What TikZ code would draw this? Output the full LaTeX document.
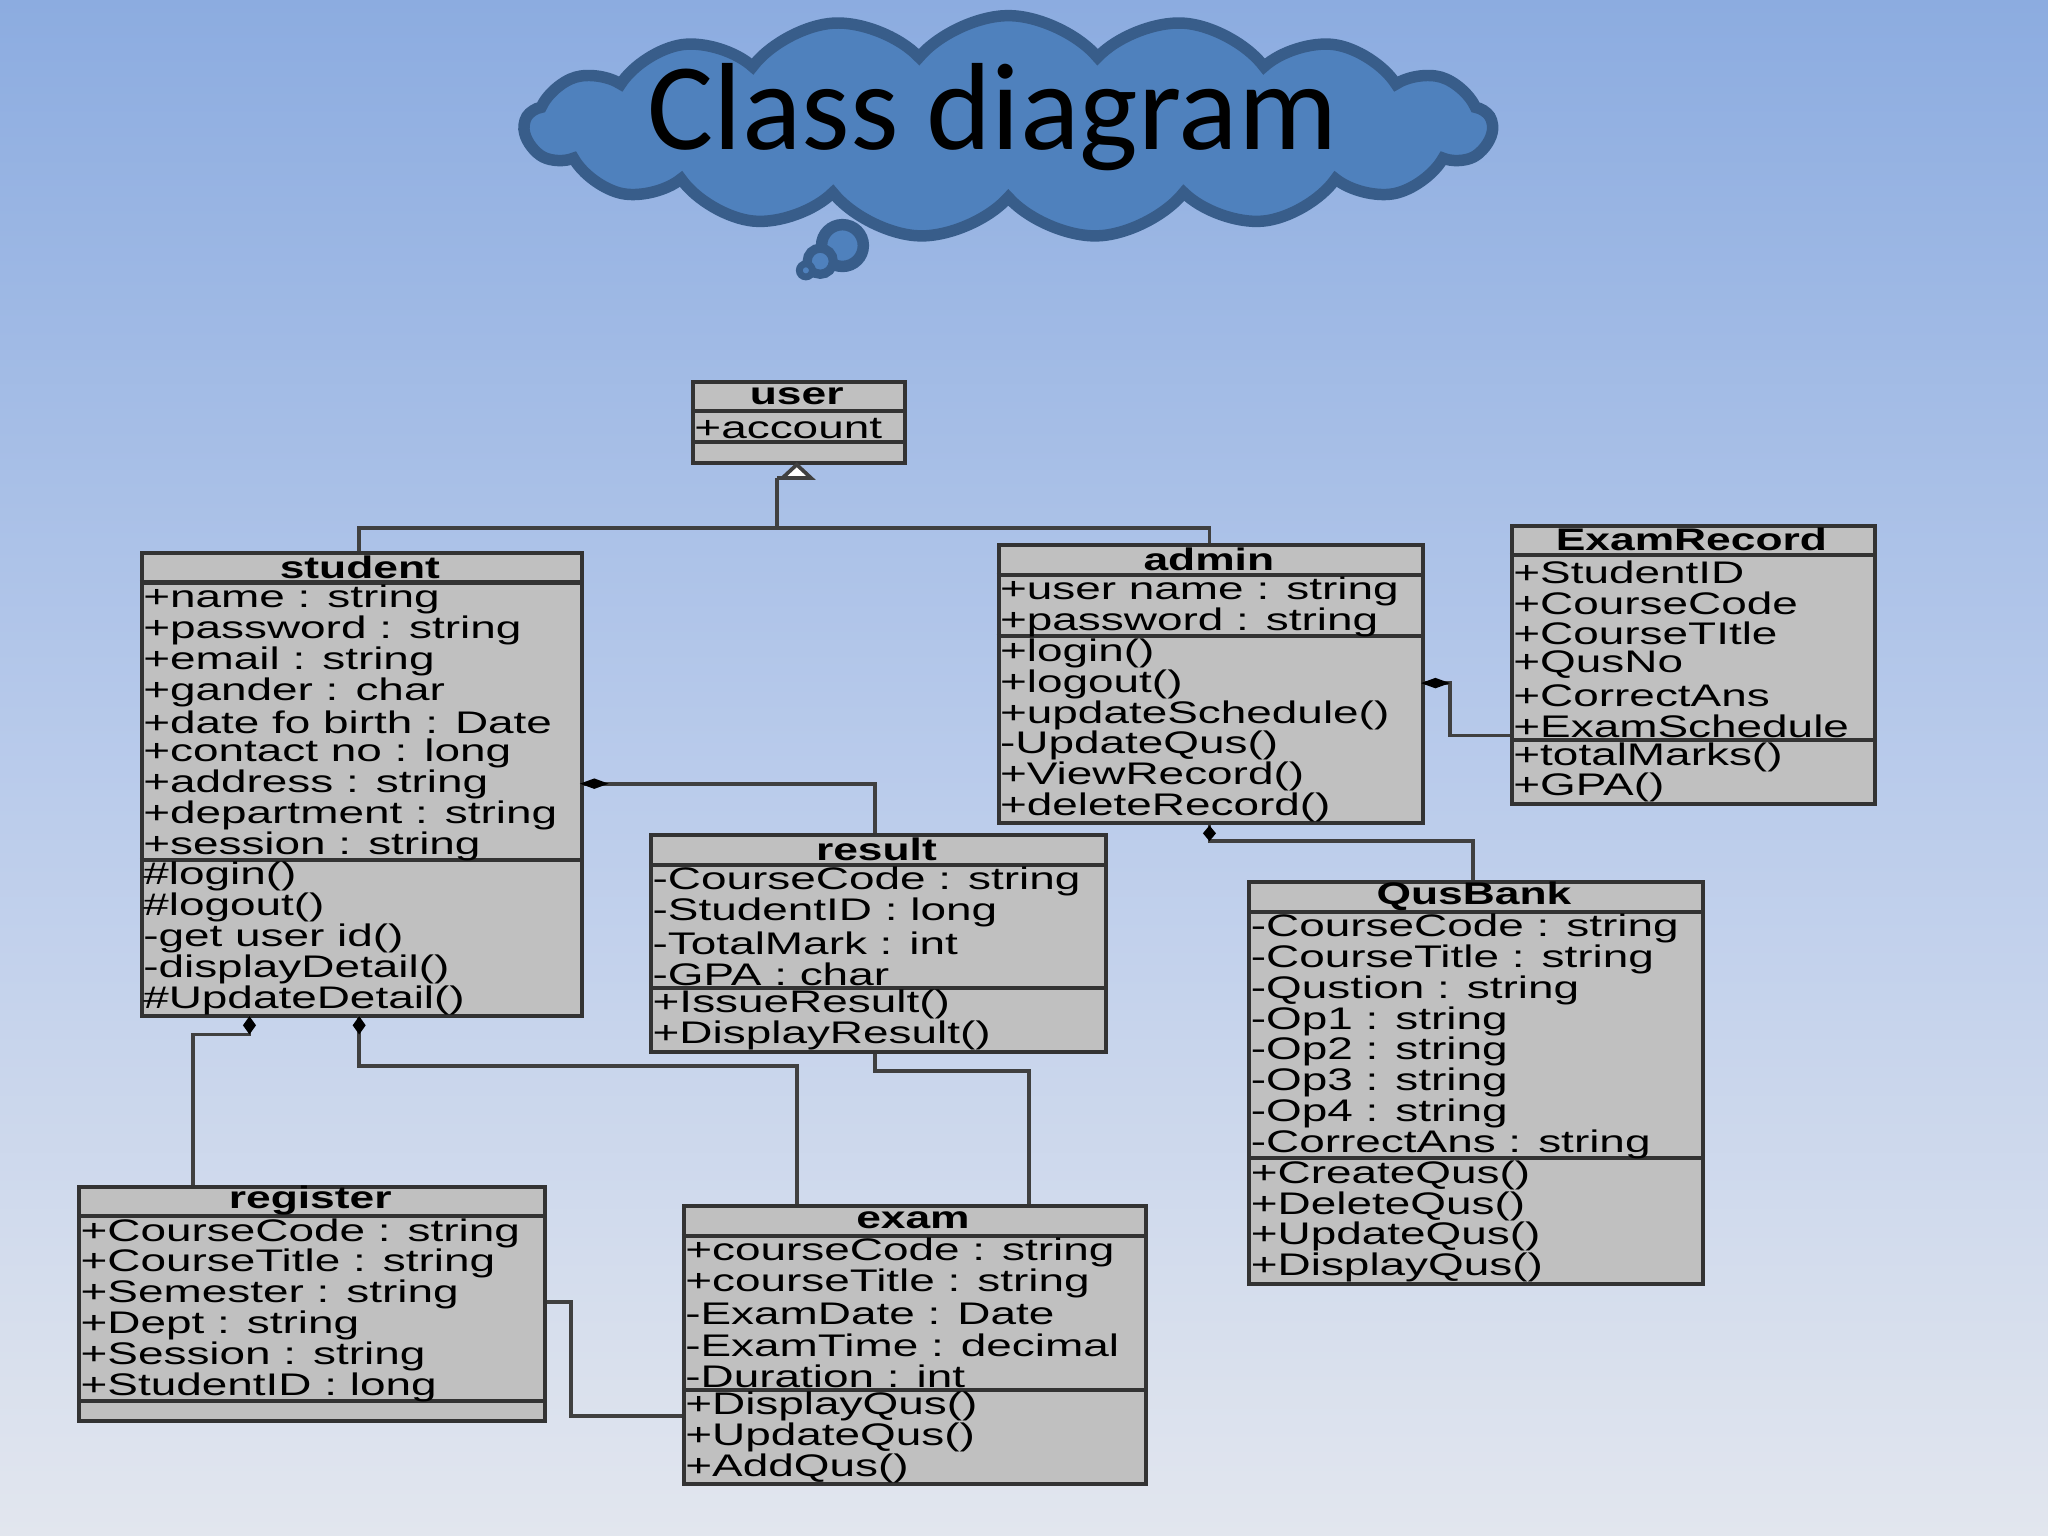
\documentclass[tikz,border=0pt]{standalone}
\usepackage{fontspec}
\setmainfont{Liberation Sans}
\newfontfamily\titlefont{Carlito}
\usetikzlibrary{shapes.symbols,calc}
\definecolor{bgtop}{RGB}{140,172,224}
\definecolor{bgmid}{RGB}{185,203,235}
\definecolor{bgbot}{RGB}{226,230,238}
\definecolor{boxfill}{RGB}{192,192,192}
\definecolor{cloudfill}{RGB}{79,129,189}
\definecolor{cloudline}{RGB}{56,93,138}
\newcommand\rt[3]{\node[anchor=west,inner sep=0pt,font=\fontsize{6.8}{8}\selectfont] at ({#1},{#2}) {\scalebox{1.47}[1]{#3}};}
\newcommand\ttl[3]{\node[inner sep=0pt,font=\fontsize{6.8}{8}\selectfont\bfseries] at ({#1},{#2}) {\scalebox{1.42}[1]{#3}};}
% #1 name #2 x1 #3 x2 #4 ytop #5 title #6 nA #7 attrs #8 nO #9 ops
\newcommand\umlc[9]{%
  \pgfmathsetmacro\myyA{#4+24}%
  \pgfmathsetmacro\myyB{\myyA+#6*23.6}%
  \pgfmathsetmacro\myyC{\myyB+max(#8*23.6,14)}%
  \pgfmathsetmacro\mybw{(#3-#2)*0.01}%
  \pgfmathsetmacro\mybh{(\myyC-#4)*0.01}%
  \node[box,minimum width=\mybw cm,minimum height=\mybh cm,anchor=north west] (#1) at (#2,#4) {};
  \draw[boxline] (#2,\myyA) -- (#3,\myyA) (#2,\myyB) -- (#3,\myyB);
  \pgfmathsetmacro\myxm{(#2+#3)/2}%
  \ttl{\myxm}{#4+12}{#5}
  \foreach \t [count=\i] in {#7} {\rt{#2+2}{\myyA+(\i-0.45)*23.6}{\t}}
  \ifnum#8>0 \foreach \t [count=\i] in {#9} {\rt{#2+2}{\myyB+(\i-0.45)*23.6}{\t}}\fi
}
\tikzset{
  box/.style={draw=black!80,line width=0.9pt,fill=boxfill,inner sep=0pt},
  boxline/.style={draw=black!80,line width=0.9pt},
  conn/.style={draw=black!75,line width=0.8pt},
}
\begin{document}
\begin{tikzpicture}[x=0.01cm,y=-0.01cm]
\useasboundingbox (0,0) rectangle (1568,1176);
\shade[top color=bgtop,bottom color=bgbot,middle color=bgmid] (0,0) rectangle (1568,1176);
% cloud
\node[cloud,cloud puffs=17,cloud puff arc=100,aspect=4.4,draw=cloudline,line width=2.5pt,fill=cloudfill,minimum width=7.4cm,minimum height=1.7cm] (cloud) at (772,97) {};
\draw[cloudline,line width=2.5pt,fill=cloudfill] (645,188) circle (16);
\draw[cloudline,line width=2pt,fill=cloudfill] (628,200) circle (10);
\draw[cloudline,line width=1.5pt,fill=cloudfill] (617,207) circle (5);
\node[font=\titlefont\fontsize{27}{30}\selectfont] (title) at (760,90) {Class diagram};
% classes
\umlc{user}{529}{691}{291}{user}{1}{+account}{0}{}
\umlc{student}{107}{444}{422}{student}{9}{+name : string,+password : string,+email : string,+gander : char,+date fo birth : Date,+contact no : long,+address : string,+department : string,+session : string}{5}{\#login(),\#logout(),-get user id(),-displayDetail(),\#UpdateDetail()}
\umlc{admin}{763}{1088}{416}{admin}{2}{+user name : string,+password : string}{6}{+login(),+logout(),+updateSchedule(),-UpdateQus(),+ViewRecord(),+deleteRecord()}
\umlc{examrecord}{1156}{1434}{401}{ExamRecord}{6}{+StudentID,+CourseCode,+CourseTItle,+QusNo,+CorrectAns,+ExamSchedule}{2}{+totalMarks(),+GPA()}
\umlc{result}{497}{845}{638}{result}{4}{-CourseCode : string,-StudentID : long,-TotalMark : int,-GPA : char}{2}{+IssueResult(),+DisplayResult()}
\umlc{qusbank}{955}{1302}{674}{QusBank}{8}{-CourseCode : string,-CourseTitle : string,-Qustion : string,-Op1 : string,-Op2 : string,-Op3 : string,-Op4 : string,-CorrectAns : string}{4}{+CreateQus(),+DeleteQus(),+UpdateQus(),+DisplayQus()}
\umlc{register}{59}{416}{907}{register}{6}{+CourseCode : string,+CourseTitle : string,+Semester : string,+Dept : string,+Session : string,+StudentID : long}{0}{}
\umlc{exam}{522}{876}{922}{exam}{5}{+courseCode : string,+courseTitle : string,-ExamDate : Date,-ExamTime : decimal,-Duration : int}{3}{+DisplayQus(),+UpdateQus(),+AddQus()}
% generalization
\draw[conn,fill=white] (user.south -| 610,0) -- (621,366) -- (599,366) -- cycle;
\draw[conn] (595,366) -- (621,366);
\draw[conn] (595,366) -- (595,404);
\draw[conn] (student.north -| 275,0) -- (275,404) -- (926,404) -- (admin.north -| 926,0);
% student - result
\draw[conn] (student.east |- 0,600) -- (670,600) -- (result.north -| 670,0);
\fill (444,600) -- (455,596) -- (466,600) -- (455,604) -- cycle;
% admin - qusbank
\draw[conn] (admin.south -| 926,0) -- (926,644) -- (1128,644) -- (qusbank.north -| 1128,0);
\fill (926,632) -- (931,638) -- (926,644) -- (921,638) -- cycle;
% admin - examrecord
\draw[conn] (admin.east |- 0,523) -- (1110,523) -- (1110,563) -- (examrecord.west |- 0,563);
\fill (1088,523) -- (1099,519) -- (1110,523) -- (1099,527) -- cycle;
% student - register
\draw[conn] (191,778) -- (191,792) -- (148,792) -- (register.north -| 148,0);
\fill (191,778) -- (196,785) -- (191,792) -- (186,785) -- cycle;
% student - exam
\draw[conn] (275,778) -- (275,816) -- (610,816) -- (exam.north -| 610,0);
\fill (275,778) -- (280,785) -- (275,792) -- (270,785) -- cycle;
% result - exam
\draw[conn] (result.south -| 670,0) -- (670,820) -- (788,820) -- (exam.north -| 788,0);
% register - exam
\draw[conn] (register.east |- 0,997) -- (437,997) -- (437,1084) -- (exam.west |- 0,1084);
\end{tikzpicture}
\end{document}
